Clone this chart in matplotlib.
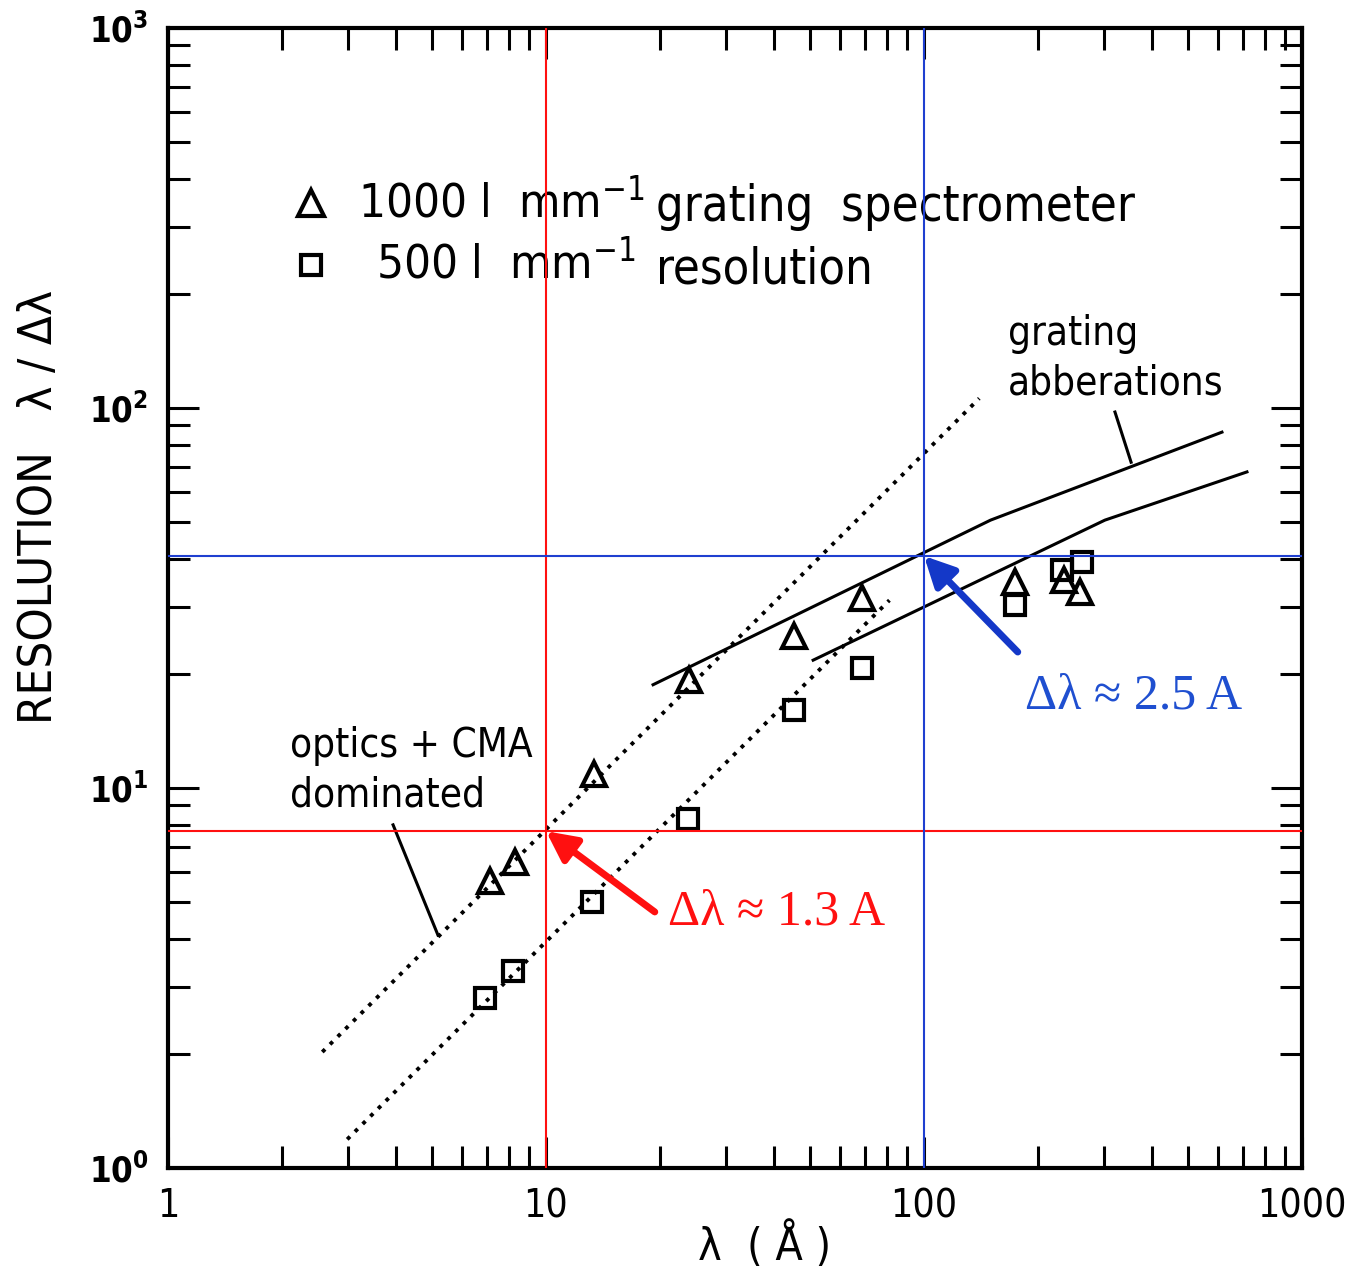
import matplotlib
matplotlib.use("Agg")
from matplotlib import pyplot as plt

plt.rcParams['font.family'] = ['DejaVu Sans']
plt.rcParams['font.stretch'] = 'condensed'

# 1000 l/mm grating (triangles)
tri_x = [7.1, 8.3, 13.4, 23.9, 45.3, 68.5, 174, 234, 259]
tri_y = [5.7, 6.4, 10.9, 19.2, 25.1, 31.6, 34.8, 35.3, 32.8]
# 500 l/mm grating (squares)
sq_x = [6.9, 8.2, 13.2, 23.7, 45.3, 68.5, 174, 232, 262]
sq_y = [2.8, 3.3, 5.0, 8.3, 16.0, 20.7, 30.3, 37.5, 39.3]

# dotted "optics + CMA dominated" limits
dot1_x = [2.56, 140]
dot1_y = [2.02, 106]
dot2_x = [2.98, 81]
dot2_y = [1.19, 31.2]

# solid "grating abberations" limits
sol1_x = [19.2, 150, 614]
sol1_y = [18.7, 50.7, 86.4]
sol2_x = [50.9, 301, 715]
sol2_y = [21.7, 50.7, 67.9]

red_x, red_y = 10, 7.7
blue_x, blue_y = 100, 40.8

fig = plt.figure(figsize=(13.48, 12.67), dpi=100)
ax = fig.add_axes([0.1246, 0.0781, 0.8413, 0.8998])
ax.set_xscale('log')
ax.set_yscale('log')
ax.set_xlim(1, 1000)
ax.set_ylim(1, 1000)

ax.plot(dot1_x, dot1_y, ls=(0, (1, 1.8)), color='k', lw=2.8)
ax.plot(dot2_x, dot2_y, ls=(0, (1, 1.8)), color='k', lw=2.8)
ax.plot(sol1_x, sol1_y, color='k', lw=2.2)
ax.plot(sol2_x, sol2_y, color='k', lw=2.2)

ax.plot(tri_x, tri_y, ls='none', marker='^', ms=17, mfc='none', mec='k', mew=3)
ax.plot(sq_x, sq_y, ls='none', marker='s', ms=15, mfc='none', mec='k', mew=3)

# leader lines
ax.plot([320, 353], [97.6, 72], color='k', lw=2.2)
ax.plot([3.94, 5.18], [8.0, 4.1], color='k', lw=2.2)

# reference lines
ax.axvline(red_x, color='#ff1010', lw=1.5, zorder=5)
ax.axhline(red_y, color='#ff1010', lw=1.5, zorder=5)
ax.axvline(blue_x, color='#1f3fd0', lw=1.5, zorder=5)
ax.axhline(blue_y, color='#1f3fd0', lw=1.5, zorder=5)

ax.annotate('', xy=(red_x, red_y), xytext=(19.4, 4.72),
            arrowprops=dict(arrowstyle='-|>', lw=5, color='#ff1010',
                            mutation_scale=45, shrinkA=0, shrinkB=0), zorder=6)
ax.annotate('', xy=(blue_x, blue_y), xytext=(177, 22.8),
            arrowprops=dict(arrowstyle='-|>', lw=5, color='#1438c8',
                            mutation_scale=45, shrinkA=0, shrinkB=0), zorder=6)
ax.text(21.0, 4.72, 'Δλ ≈ 1.3 A', color='#ff1010', fontsize=36,
        family='Liberation Serif', fontstretch='normal', va='center', ha='left')
ax.text(185, 17.4, 'Δλ ≈ 2.5 A', color='#1f4fd0', fontsize=36,
        family='Liberation Serif', fontstretch='normal', va='center', ha='left')

# annotations
ax.text(167, 135, 'grating\nabberations', fontsize=29, va='center', ha='left',
        linespacing=1.3)
ax.text(2.10, 11.1, 'optics + CMA\ndominated', fontsize=29, va='center', ha='left',
        linespacing=1.3)

# legend drawn as text block
ax.plot([2.39], [346], ls='none', marker='^', ms=19, mfc='none', mec='k', mew=3)
ax.plot([2.39], [238], ls='none', marker='s', ms=15, mfc='none', mec='k', mew=3)
ax.text(3.18, 346, r'1000 l  mm$^{-1}$', fontsize=34, va='center', ha='left')
ax.text(3.55, 238, r'500 l  mm$^{-1}$', fontsize=34, va='center', ha='left')
ax.text(19.6, 338, 'grating  spectrometer', fontsize=35, va='center', ha='left')
ax.text(19.6, 232, 'resolution', fontsize=35, va='center', ha='left')

# axes styling
for s in ax.spines.values():
    s.set_linewidth(3)
ax.tick_params(which='both', direction='in', top=True, right=True, width=2.2)
ax.tick_params(which='major', length=22)
ax.tick_params(which='minor', length=16)
ax.tick_params(axis='x', which='major', labelsize=28, pad=14)
ax.tick_params(axis='y', which='major', labelsize=25, pad=14)
ax.set_xticks([1, 10, 100, 1000])
ax.set_xticklabels(['1', '10', '100', '1000'])
ax.set_yticks([1, 10, 100, 1000])
ax.set_yticklabels([r'$\mathbf{10^0}$', r'$\mathbf{10^1}$', r'$\mathbf{10^2}$', r'$\mathbf{10^3}$'])

ax.set_xlabel('λ  ( Å )', fontsize=32)
ax.xaxis.set_label_coords(0.526, -0.0675)
ax.xaxis.label.set_verticalalignment('center')
ax.set_ylabel('RESOLUTION   λ / Δλ', fontsize=34)
ax.yaxis.set_label_coords(-0.113, 0.58)
ax.yaxis.label.set_verticalalignment('center')

fig.savefig('out.png', dpi=100)
